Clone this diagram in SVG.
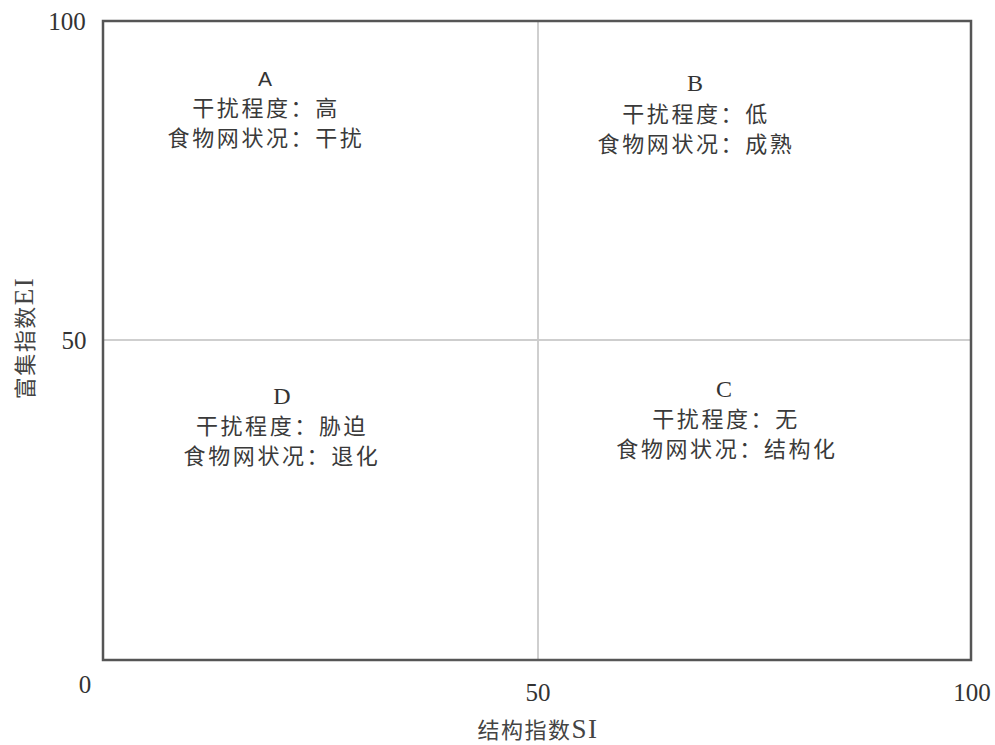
<svg xmlns="http://www.w3.org/2000/svg" width="995" height="745" viewBox="0 0 995 745">
<style>
.num{font-family:"Liberation Serif",serif;font-size:25px;fill:#333;text-anchor:middle}
.lab{font-family:"Noto Sans CJK SC",sans-serif;font-size:22px;fill:#3a3a3a;text-anchor:middle;letter-spacing:2.6px}
.let{font-family:"Liberation Serif",serif;font-size:24px;fill:#333;text-anchor:middle}
.ax{font-family:"Noto Sans CJK SC",sans-serif;font-size:22px;fill:#444;text-anchor:middle}
.lat{font-family:"Liberation Serif",serif;font-size:27px}
.grid{stroke:#cfcfcf;stroke-width:2;fill:none}
.frame{stroke:#555;stroke-width:2.5;fill:none}
</style>
<rect width="995" height="745" fill="#fff"/>
<g id="connectors">
<line class="grid" x1="538" y1="20" x2="538" y2="660"/>
<line class="grid" x1="103" y1="340" x2="971" y2="340"/>
<rect class="frame" x="103" y="21" width="868" height="639"/>
</g>
<g id="ticks">
<text class="num" x="67" y="30">100</text>
<text class="num" x="74" y="349">50</text>
<text class="num" x="85" y="693">0</text>
<text class="num" x="538" y="701">50</text>
<text class="num" x="972" y="701">100</text>
</g>
<g id="axis-x"><text class="ax" x="538" y="738" style="letter-spacing:1.5px">结构指数<tspan class="lat">SI</tspan></text></g>
<g id="axis-y"><text class="ax" transform="translate(33,338) rotate(-90)" style="letter-spacing:1.5px">富集指数<tspan class="lat">EI</tspan></text></g>
<g id="quadrant-A">
<text class="let" x="265" y="86" style="font-family:'Liberation Sans',sans-serif;font-size:21px">A</text>
<text class="lab" x="266" y="116">干扰程度：高</text>
<text class="lab" x="266" y="146">食物网状况：干扰</text>
</g>
<g id="quadrant-B">
<text class="let" x="695" y="91">B</text>
<text class="lab" x="696" y="122">干扰程度：低</text>
<text class="lab" x="696" y="152">食物网状况：成熟</text>
</g>
<g id="quadrant-D">
<text class="let" x="282" y="404">D</text>
<text class="lab" x="282" y="434">干扰程度：胁迫</text>
<text class="lab" x="282" y="464">食物网状况：退化</text>
</g>
<g id="quadrant-C">
<text class="let" x="724" y="397">C</text>
<text class="lab" x="726" y="427">干扰程度：无</text>
<text class="lab" x="727" y="457">食物网状况：结构化</text>
</g>
</svg>
